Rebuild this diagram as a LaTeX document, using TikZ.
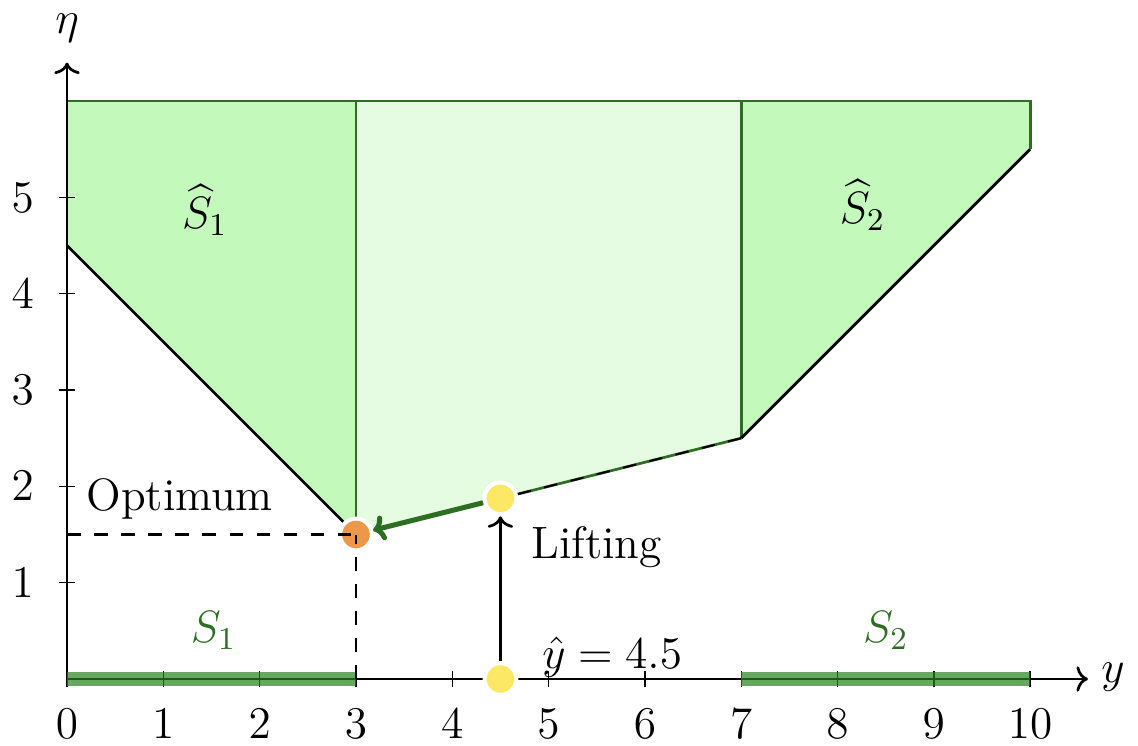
\RequirePackage{fix-cm}
\documentclass[tikz,border=0pt]{standalone}
\usepackage{amsmath, amssymb}
\usepackage{tikz}
\usetikzlibrary{positioning, arrows.meta}
\definecolor{setgreen}{RGB}{45, 110, 35}
\definecolor{barzgreen}{RGB}{40, 130, 30}
\definecolor{hullfill}{RGB}{196, 249, 188}
\definecolor{liftfill}{RGB}{229, 252, 226}
\definecolor{dotyellow}{RGB}{252, 232, 100}
\definecolor{dotorange}{RGB}{236, 152, 72}

\begin{document}
\begin{tikzpicture}[font=\fontsize{13.4}{16}\selectfont, >={To[width=7.5pt,length=3.4pt]},
    region/.style={draw=setgreen, thick},
    dot/.style={circle, fill=#1, draw=white, line width=1.2pt, minimum size=0.33cm, inner sep=0pt},
    guide/.style={semithick, dash pattern=on 4pt off 4pt},
    setbar/.style={barzgreen, line width=4.4pt, opacity=0.7}]
  \useasboundingbox (-0.696,-0.694) rectangle (11.12,7.05);

  % lifted sets and convex hull
  \fill[liftfill] (3,1.5) -- (7,2.5) -- (7,6) -- (3,6) -- cycle;
  \fill[hullfill] (0,4.5) -- (3,1.5) -- (3,6) -- (0,6) -- cycle;
  \fill[hullfill] (7,2.5) -- (10,5.5) -- (10,6) -- (7,6) -- cycle;
  \draw[region] (0,6) -- (10,6) -- (10,5.5);
  \draw[region] (3,1.5) -- (3,6);
  \draw[region] (7,2.5) -- (7,6);
  \draw[region] (3,1.5) -- (7,2.5);
  \draw[thick] (0,4.5) -- (3,1.5);
  \draw[thick] (7,2.5) -- (10,5.5);

  % axes
  \draw[thick,->] (0,0) -- (10.6,0) coordinate (xend);
  \draw[thick,->] (0,0) -- (0,6.4) coordinate (yend);
  \node (ylab) at (10.86,0.02) {$y$};
  \node (etalab) at (0,6.76) {$\eta$};
  \foreach \x in {0,...,10}
    \draw (\x,0.08) -- (\x,-0.08) node[below=3pt] (xt\x) {$\x$};
  \foreach \y in {1,...,5}
    \draw (0.08,\y) -- (-0.08,\y) node[left=4pt] (yt\y) {$\y$};

  % the sets S1, S2
  \draw[setbar] (0,0) -- (3,0);
  \draw[setbar] (7,0) -- (10,0);
  \node[setgreen] (s1) at (1.52,0.5) {$S_1$};
  \node[setgreen] (s2) at (8.5,0.5) {$S_2$};
  \node (s1hat) at (1.43,4.87) {$\widehat{S}_1$};
  \node (s2hat) at (8.26,4.92) {$\widehat{S}_2$};

  % points
  \node[dot=dotyellow] (yhat) at (4.5,0) {};
  \node[dot=dotyellow] (lift) at (4.5,1.875) {};
  \node[dot=dotorange] (opt)  at (3,1.5) {};
  \coordinate (optx) at (3,0);
  \coordinate (opty) at (0,1.5);
  \coordinate (hullend) at (7,2.5);

  \draw[guide] (lift) -- (hullend);
  \draw[guide] (opty) -- (opt.center);
  \draw[guide] (optx) -- (opt.center);
  \draw[thick,->] (yhat) -- (lift);
  \draw[setgreen,line width=1.5pt,->] (lift) -- (opt);

  \node (optlab) at (1.17,1.87) {Optimum};
  \node[right] (liftlab) at (4.7,1.37) {Lifting};
  \node (yhatlab) at (5.66,0.23) {$\hat{y} = 4.5$};
\end{tikzpicture}
\end{document}
